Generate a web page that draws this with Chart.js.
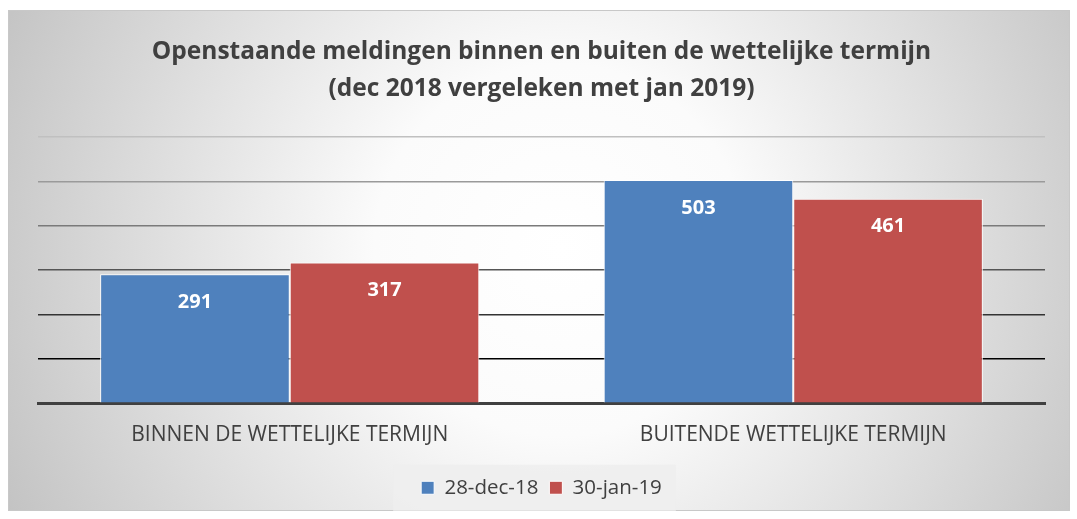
<!DOCTYPE html>
<html>
<head>
<meta charset="utf-8">
<script src="https://cdn.jsdelivr.net/npm/chart.js@4"></script>
<style>
  html, body { margin: 0; padding: 0; background: #fff; }
  #wrap { width: 1077px; height: 519px; }
</style>
</head>
<body>
<div id="wrap"><canvas id="chart" width="1077" height="519"></canvas></div>
<script>
// data
const categories = ['BINNEN DE WETTELIJKE TERMIJN', 'BUITENDE WETTELIJKE TERMIJN'];
const seriesNames = ['28-dec-18', '30-jan-19'];
const dec18 = [291, 503];
const jan19 = [317, 461];

const FONT = '"Open Sans", Lato, sans-serif';
const TEXT = '#404040';

// grid line colours, darker towards the baseline
const gridColors = { 600: '#c0c0c0', 500: '#9a9a9a', 400: '#7a7a7a', 300: '#555555', 200: '#333333', 100: '#000000' };

const backgroundPlugin = {
  id: 'bg',
  beforeDraw(chart) {
    const ctx = chart.ctx;
    ctx.save();
    ctx.fillStyle = '#ffffff';
    ctx.fillRect(0, 0, chart.width, chart.height);
    const x0 = 8, y0 = 10, x1 = 1070, y1 = 511;
    const g = ctx.createRadialGradient(560, 250, 0, 560, 250, 620);
    g.addColorStop(0, '#ffffff');
    g.addColorStop(0.3, '#fbfbfb');
    g.addColorStop(1, '#c2c2c2');
    ctx.fillStyle = g;
    ctx.fillRect(x0, y0, x1 - x0, y1 - y0);
    ctx.strokeStyle = '#c8c8c8';
    ctx.lineWidth = 1;
    ctx.strokeRect(x0 + 0.5, y0 + 0.5, x1 - x0 - 1, y1 - y0 - 1);
    // legend panel
    const boxes = chart.legend && chart.legend.legendHitBoxes;
    if (boxes && boxes.length) {
      const first = boxes[0], last = boxes[boxes.length - 1];
      const lx = first.left - 28, rx = last.left + last.width + 14;
      const cy = first.top + first.height / 2;
      ctx.fillStyle = 'rgba(238,238,238,0.9)';
      ctx.fillRect(lx, cy - 23, rx - lx, 46);
    }
    ctx.restore();
  }
};

const valueLabels = {
  id: 'valueLabels',
  afterDatasetsDraw(chart) {
    const ctx = chart.ctx;
    ctx.save();
    ctx.fillStyle = '#ffffff';
    ctx.font = 'bold 20px ' + FONT;
    ctx.textAlign = 'center';
    ctx.textBaseline = 'middle';
    chart.data.datasets.forEach((ds, i) => {
      chart.getDatasetMeta(i).data.forEach((bar, j) => {
        ctx.fillText(String(ds.data[j]), bar.x, bar.y + 28);
      });
    });
    ctx.restore();
  }
};

new Chart(document.getElementById('chart'), {
  type: 'bar',
  data: {
    labels: categories,
    datasets: [{
      label: seriesNames[0],
      data: dec18,
      backgroundColor: '#4f81bd',
      borderColor: '#ffffff',
      borderWidth: 1
    }, {
      label: seriesNames[1],
      data: jan19,
      backgroundColor: '#c0504d',
      borderColor: '#ffffff',
      borderWidth: 1
    }]
  },
  options: {
    responsive: false,
    animation: false,
    layout: { padding: { left: 38, right: 32, top: 34, bottom: 11 } },
    datasets: { bar: { categoryPercentage: 0.753, barPercentage: 1.0 } },
    plugins: {
      tooltip: { enabled: false },
      title: {
        display: true,
        text: ['Openstaande meldingen binnen en buiten de wettelijke termijn', '(dec 2018 vergeleken met jan 2019)'],
        color: TEXT,
        font: { family: FONT, size: 24.5, weight: 'bold', lineHeight: 1.51 },
        padding: { top: 0, bottom: 29 }
      },
      legend: {
        position: 'bottom',
        labels: {
          color: TEXT,
          font: { family: FONT, size: 20.5 },
          boxWidth: 13,
          boxHeight: 13,
          padding: 11
        }
      }
    },
    scales: {
      x: {
        grid: { display: false, drawTicks: false },
        border: { display: true, color: '#404040', width: 3 },
        ticks: { color: TEXT, font: { family: FONT, size: 21 }, padding: 19 }
      },
      y: {
        min: 0,
        max: 600,
        ticks: { display: false, stepSize: 100 },
        border: { display: false },
        grid: {
          drawTicks: false,
          lineWidth: 1.5,
          color: (c) => gridColors[c.tick.value] || 'rgba(0,0,0,0)'
        }
      }
    }
  },
  plugins: [backgroundPlugin, valueLabels]
});
</script>
</body>
</html>
